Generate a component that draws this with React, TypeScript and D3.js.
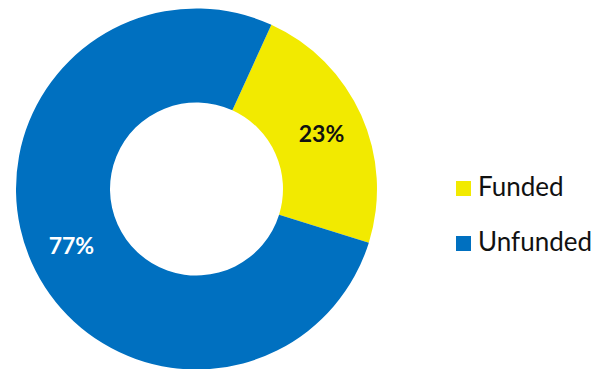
import React from "react";
import * as d3 from "d3";

const categories = ["Funded", "Unfunded"];
const values = [23, 77];
const labels = ["23%", "77%"];
const colors = ["#F2EA00", "#0070C0"];
const labelColors = ["#111111", "#FFFFFF"];

export default function App() {
  const width = 607;
  const height = 369;
  const cx = 196.5;
  const cy = 189;
  const outerR = 180.5;
  const innerR = 86.5;
  const startAngle = (24.5 * Math.PI) / 180;

  const pie = d3
    .pie<number>()
    .sort(null)
    .startAngle(startAngle)
    .endAngle(startAngle + 2 * Math.PI);
  const arcs = pie(values);
  const arcGen = d3.arc<d3.PieArcDatum<number>>().innerRadius(innerR).outerRadius(outerR);
  const labelArc = d3.arc<d3.PieArcDatum<number>>().innerRadius(137).outerRadius(137);

  return (
    <svg
      width={width}
      height={height}
      style={{ position: "absolute", left: 0, top: 0, fontFamily: "Lato, sans-serif" }}
    >
      <rect width={width} height={height} fill="#fff" />
      <g transform={`translate(${cx},${cy})`}>
        {arcs.map((a, i) => (
          <path key={i} d={arcGen(a) || ""} fill={colors[i]} />
        ))}
        {arcs.map((a, i) => {
          const [x, y] = labelArc.centroid(a);
          return (
            <text
              key={i}
              x={x}
              y={y}
              textAnchor="middle"
              dominantBaseline="central"
              fontSize={23}
              fontWeight="bold"
              fill={labelColors[i]}
            >
              {labels[i]}
            </text>
          );
        })}
      </g>
      {categories.map((c, i) => (
        <g key={c} transform={`translate(456,${181 + i * 55})`}>
          <rect width={15} height={15} fill={colors[i]} />
          <text x={22} y={15} fontSize={26} fill="#111">
            {c}
          </text>
        </g>
      ))}
    </svg>
  );
}
